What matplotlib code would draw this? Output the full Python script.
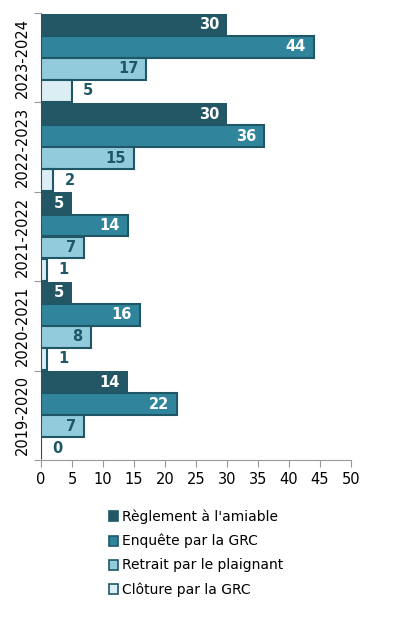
import numpy as np
import matplotlib
matplotlib.use("Agg")
import matplotlib.pyplot as plt
from matplotlib.patches import Patch

# ----------------------------- data -----------------------------------------
YEARS = ["2019-2020", "2020-2021", "2021-2022", "2022-2023", "2023-2024"]
SERIES = ["Règlement à l'amiable", "Enquête par la GRC",
          "Retrait par le plaignant", "Clôture par la GRC"]
REGLEMENT = [14, 5, 5, 30, 30]
ENQUETE = [22, 16, 14, 36, 44]
RETRAIT = [7, 8, 7, 15, 17]
CLOTURE = [0, 1, 1, 2, 5]

COLORS = ["#235766", "#30849b", "#92cbdc", "#dbeef3"]
EDGE = "#1f5766"
LABEL_COLORS = ["white", "white", "#1f5766", "#1f5766"]

plt.rcParams.update({"font.family": "DejaVu Sans", "font.size": 10})

fig = plt.figure(figsize=(3.93, 6.18), dpi=100)
ax = fig.add_axes([41 / 393, 1 - 460 / 618, 310 / 393, 447 / 618])

y = np.arange(len(YEARS)) + 0.5
h = 0.245
offsets = [0.37, 0.123, -0.123, -0.37]
values = [REGLEMENT, ENQUETE, RETRAIT, CLOTURE]

for k, (vals, off) in enumerate(zip(values, offsets)):
    ax.barh(y + off, vals, height=h, color=COLORS[k], edgecolor=EDGE,
            linewidth=1.5 if k else 0, zorder=3)
    for yi, v in zip(y + off, vals):
        if k < 3:
            ax.text(v - 1.3, yi, str(v), ha="right", va="center",
                    color=LABEL_COLORS[k], fontweight="bold", fontsize=10.5)
        else:
            ax.text(v + 1.8, yi, str(v), ha="left", va="center",
                    color=LABEL_COLORS[k], fontweight="bold", fontsize=10.5)

ax.set_xlim(0, 50)
ax.set_ylim(0, 5)
ax.set_xticks(range(0, 51, 5))
ax.set_yticks(np.arange(0, 6))
ax.set_yticklabels([])
ax.set_yticks(y, minor=True)
ax.set_yticklabels(YEARS, minor=True, rotation=90, va="center")
ax.tick_params(axis="y", which="minor", length=0, pad=8)
ax.tick_params(axis="y", which="major", length=5, color="#999999")
ax.tick_params(axis="x", length=5, color="#999999", labelsize=10.5)
ax.tick_params(axis="y", which="minor", labelsize=10.5)
for s in ["top", "right"]:
    ax.spines[s].set_visible(False)
for s in ["left", "bottom"]:
    ax.spines[s].set_color("#999999")

handles = [Patch(facecolor=c, edgecolor=EDGE, linewidth=1.2) for c in COLORS]
fig.legend(handles, SERIES, loc="upper left", bbox_to_anchor=(96 / 393, 1 - 497 / 618),
           frameon=False, handlelength=0.7, handleheight=0.7, handletextpad=0.3,
           labelspacing=0.72, fontsize=10)

fig.savefig("out.png", dpi=100)
